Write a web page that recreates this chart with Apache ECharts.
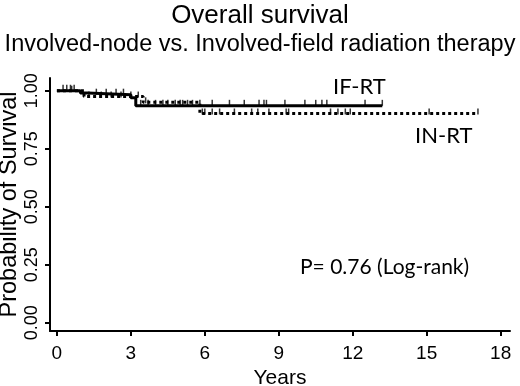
<!DOCTYPE html>
<html>
<head>
<meta charset="utf-8">
<script src="https://cdn.jsdelivr.net/npm/echarts@6.0.0/dist/echarts.min.js"></script>
<style>
  html, body { margin: 0; padding: 0; background: #fff; }
  #chartMain { width: 520px; height: 386px; }
</style>
</head>
<body>
<div id="chartMain"></div>
<script>
// step curves (time in years, survival probability)
var ifTimes = [0, 0.95, 1.25, 3.0, 3.2, 13.2];
var ifSurv = [1.0, 0.99, 0.983, 0.97, 0.935, 0.935];
var inTimes = [0, 1.1, 3.5, 5.8, 17.08];
var inSurv = [1.0, 0.975, 0.95, 0.902, 0.902];

// censored observations
var ifCensor = [0.25, 0.4, 0.55, 0.7, 1.6, 2.0, 2.4, 2.7, 3.4, 3.7, 4.0, 4.3, 4.5, 4.8, 5.0, 5.1, 5.3, 5.5, 5.8, 6.3, 7.0, 7.6, 8.2, 8.4, 8.5, 9.25, 10.06, 10.5, 10.75, 10.95, 12.5, 13.2];
var inCensor = [0.6, 1.3, 1.8, 2.2, 2.6, 3.0, 3.3, 3.6, 5.9, 6.0, 6.3, 6.6, 7.2, 7.9, 8.15, 8.6, 9.3, 9.4, 11.1, 11.4, 11.7, 11.9, 15.1, 17.08];

var xTicks = [0, 3, 6, 9, 12, 15, 18];
var yTicks = [0, 0.25, 0.5, 0.75, 1];

function zip(a, b) {
  var out = [];
  for (var i = 0; i < a.length; i++) out.push([a[i], b[i]]);
  return out;
}

// survival value of a step curve at time t
function stepValue(times, surv, t) {
  var v = surv[0];
  for (var i = 0; i < times.length; i++) {
    if (times[i] <= t) v = surv[i];
  }
  return v;
}

function censorPoints(cens, times, surv) {
  return cens.map(function(t) { return [t, stepValue(times, surv, t)]; });
}

var myChart = echarts.init(document.getElementById('chartMain'));

var option = {
  animation: false,
  backgroundColor: '#fff',
  title: [{
    text: 'Overall survival',
    left: 'center',
    top: -2,
    textStyle: { fontFamily: 'Liberation Sans', fontSize: 26, fontWeight: 'normal', color: '#000' }
  }, {
    text: 'Involved-node vs. Involved-field radiation therapy',
    left: 'center',
    top: 28,
    textStyle: { fontFamily: 'Liberation Sans', fontSize: 23.5, fontWeight: 'normal', color: '#000' }
  }],
  grid: { left: 50, right: 10, top: 78, bottom: 55, containLabel: false, outerBoundsMode: 'none' },
  xAxis: {
    type: 'value',
    min: -0.28,
    max: 18.38,
    name: 'Years',
    nameLocation: 'middle',
    nameGap: 37,
    nameMoveOverlap: false,
    nameTextStyle: { fontFamily: 'Liberation Sans', fontSize: 21, color: '#000' },
    splitLine: { show: false },
    axisLine: { onZero: false, lineStyle: { color: '#000', width: 2 } },
    axisTick: { customValues: xTicks, length: 5, lineStyle: { color: '#000', width: 2 } },
    axisLabel: {
      customValues: xTicks,
      fontFamily: 'Liberation Sans', fontSize: 19, color: '#000', margin: 13
    }
  },
  yAxis: {
    type: 'value',
    min: -0.036,
    max: 1.055,
    name: 'Probability of Survival',
    nameLocation: 'middle',
    nameGap: 28,
    nameMoveOverlap: false,
    nameTextStyle: { fontFamily: 'Liberation Sans', fontSize: 23.5, color: '#000' },
    splitLine: { show: false },
    axisLine: { onZero: false, lineStyle: { color: '#000', width: 2 } },
    axisTick: { customValues: yTicks, length: 5, lineStyle: { color: '#000', width: 2 } },
    axisLabel: {
      customValues: yTicks,
      rotate: 90,
      fontFamily: 'Liberation Sans', fontSize: 18, color: '#000', margin: 9,
      formatter: function(v) { return v.toFixed(2); }
    }
  },
  graphic: [{
    type: 'text', left: 333, top: 76,
    style: { text: 'IF-RT', fontFamily: 'Lato', fontSize: 22, fill: '#000' }
  }, {
    type: 'text', left: 415, top: 125,
    style: { text: 'IN-RT', fontFamily: 'Lato', fontSize: 22, fill: '#000' }
  }, {
    type: 'text', left: 300, top: 257,
    style: { text: 'P= 0.76 (Log-rank)', fontFamily: 'Lato', fontSize: 21, fill: '#000' }
  }],
  series: [{
    name: 'IN-RT',
    type: 'line',
    step: 'end',
    symbol: 'none',
    data: zip(inTimes, inSurv),
    lineStyle: { color: '#000', width: 3, type: [3, 3] },
    z: 2
  }, {
    name: 'IF-RT',
    type: 'line',
    step: 'end',
    symbol: 'none',
    data: zip(ifTimes, ifSurv),
    lineStyle: { color: '#000', width: 3 },
    z: 3
  }, {
    name: 'IF-RT censored',
    type: 'scatter',
    symbol: 'rect',
    symbolSize: [1.5, 6],
    symbolOffset: [0, -3],
    itemStyle: { color: '#000' },
    data: censorPoints(ifCensor, ifTimes, ifSurv),
    z: 4
  }, {
    name: 'IN-RT censored',
    type: 'scatter',
    symbol: 'rect',
    symbolSize: [1.5, 6],
    symbolOffset: [0, -2],
    itemStyle: { color: '#000' },
    data: censorPoints(inCensor, inTimes, inSurv),
    z: 4
  }]
};

myChart.setOption(option);
</script>
</body>
</html>
